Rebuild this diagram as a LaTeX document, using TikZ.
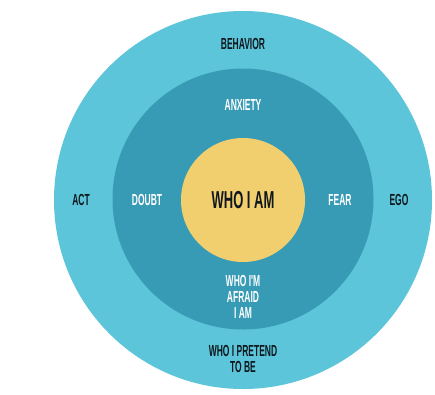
\documentclass[tikz,border=0pt]{standalone}
\usepackage{fontspec}
\usepackage{tikz}
\usetikzlibrary{positioning}
\newfontfamily\ringfont{Liberation Sans}[FakeStretch=0.53]
\definecolor{OuterCyan}{RGB}{92,197,217}
\definecolor{MidTeal}{RGB}{56,155,181}
\definecolor{CoreYellow}{RGB}{241,206,110}
\definecolor{InkDark}{RGB}{14,24,30}
\tikzset{
  ring/.style={circle,inner sep=0pt,outer sep=0pt,draw=none},
  outerring/.style={ring,fill=OuterCyan},
  midring/.style={ring,fill=MidTeal},
  corering/.style={ring,fill=CoreYellow},
  darklabel/.style={inner sep=0pt,align=center,text=InkDark,
    font=\ringfont\bfseries\fontsize{16}{16}\selectfont},
  lightlabel/.style={darklabel,text=white},
  corelabel/.style={darklabel,font=\ringfont\bfseries\fontsize{24.5}{26}\selectfont}
}

\begin{document}
\begin{tikzpicture}[x=1pt,y=-1pt]
  \useasboundingbox[fill=white] (0,0) rectangle (435,394);
  % three nested rings
  \node[outerring,minimum size=378pt] (outer) at (243,200) {};
  \node[midring,minimum size=261pt] (mid) at (243,199) {};
  \node[corering,minimum size=124pt] (core) at (243,200) {};
  % outer ring labels
  \node[darklabel] (behavior) at (243,44) {BEHAVIOR};
  \node[darklabel] (act) at (81,200) {ACT};
  \node[darklabel] (ego) at (399,200) {EGO};
  \node[darklabel] (pretend) at (243,359) {WHO I PRETEND\\TO BE};
  % middle ring labels
  \node[lightlabel] (anxiety) at (243,105) {ANXIETY};
  \node[lightlabel] (doubt) at (147,200) {DOUBT};
  \node[lightlabel] (fear) at (340,200) {FEAR};
  \node[lightlabel] (afraid) at (243,297) {WHO I'M\\AFRAID\\I AM};
  % core
  \node[corelabel] (whoiam) at (core) {WHO I AM};
\end{tikzpicture}
\end{document}
